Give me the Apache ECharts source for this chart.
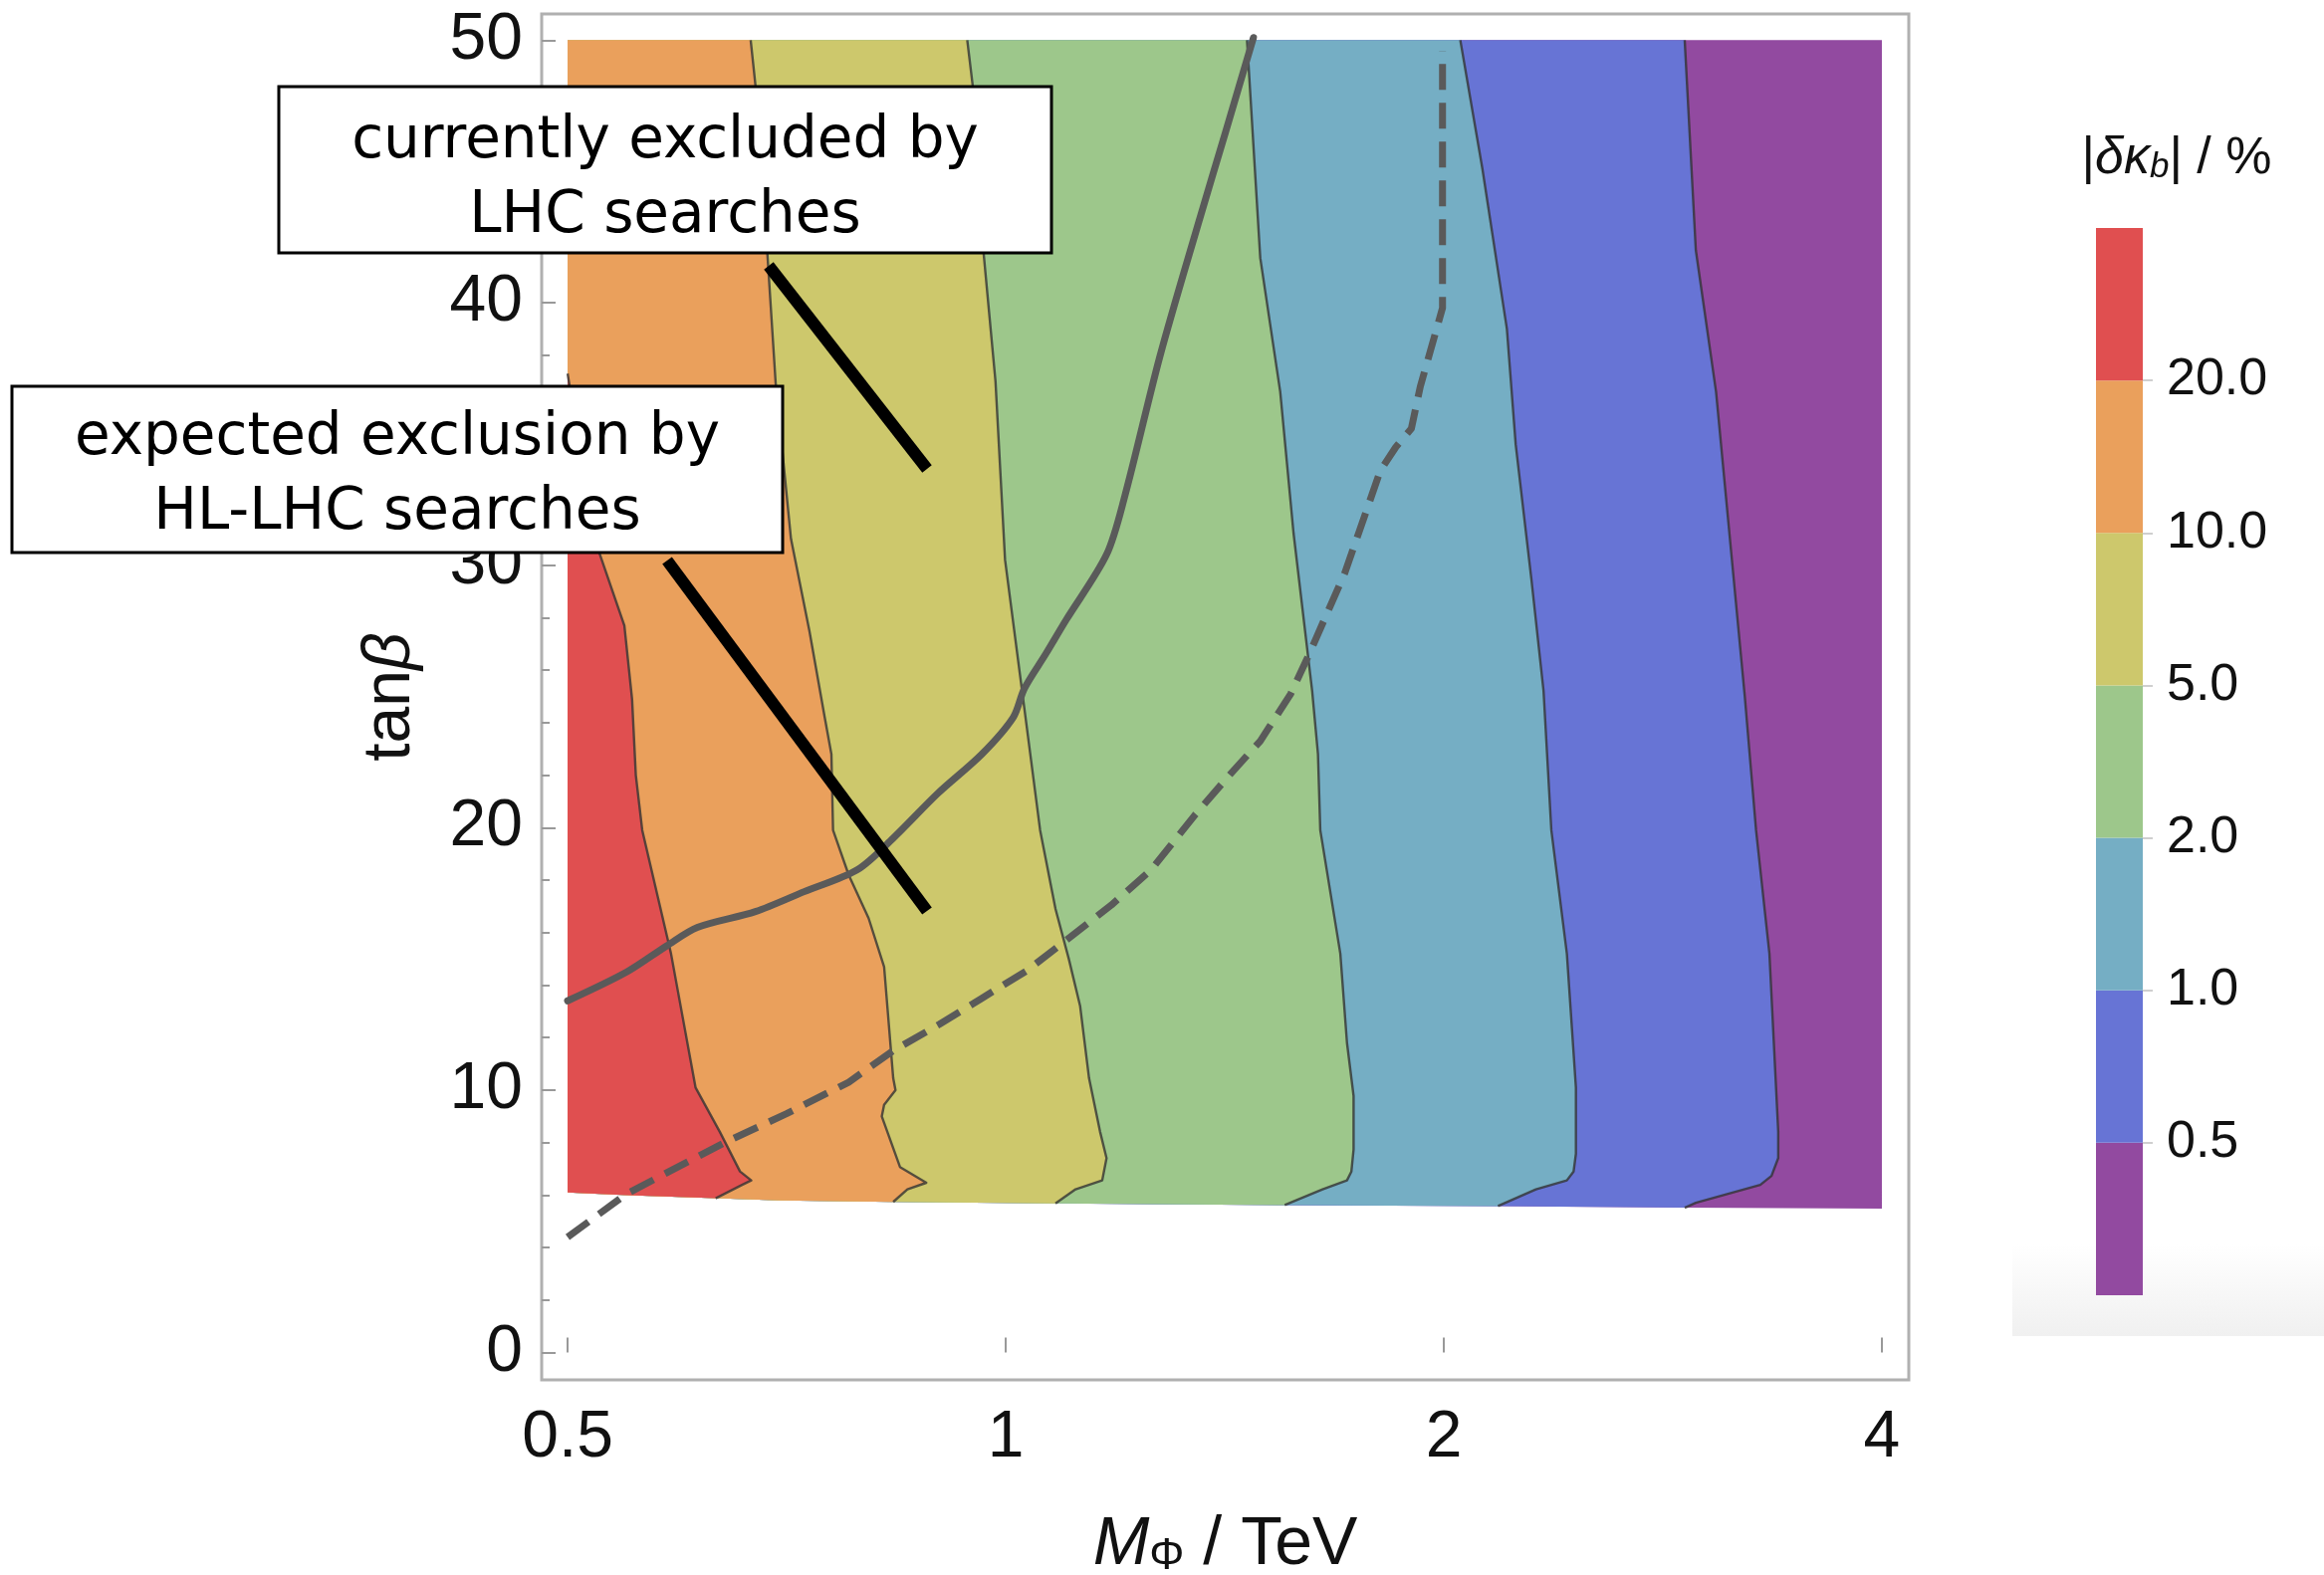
<!DOCTYPE html>
<html><head><meta charset="utf-8">
<script src="https://cdn.jsdelivr.net/npm/echarts@6/dist/echarts.min.js"></script>
<style>html,body{margin:0;padding:0;background:#fff}#c{width:2334px;height:1582px}</style>
</head><body><div id="c"></div>
<script>
// ---------- axis ticks ----------
const xTickValues = [0.5, 1, 2, 4];
const yTickValues = [0, 10, 20, 30, 40, 50];
const yMinorTickValues = [2,4,6,8,12,14,16,18,22,24,26,28,32,34,36,38,42,44,46,48];

// ---------- colour bar ----------
const bandLevels = ['0.5', '1.0', '2.0', '5.0', '10.0', '20.0'];
const bandColors = ['#924AA0', '#6774D5', '#75AEC4', '#9DC78B', '#CDC86C', '#EAA05C', '#E04F50']; // <0.5 ... >20
const bandSpan = [1, 1, 1, 1, 1, 1, 1];

// ---------- data region ----------
const dataLeft = 0.5;
const bottomEdge = [[0.5,6.1],[0.55,6.0],[0.632,5.88],[0.7,5.8],[0.837,5.74],[1.082,5.68],[1.555,5.62],[2.179,5.58],[2.928,5.52],[4,5.48]];
const rightEdge = [[4,50],[4,5.48]];

// ---------- contour boundaries  [M_Phi (TeV), tan beta] ----------
const contour20 = [[0.5,37.3],[0.513,33.5],[0.5255,30.5],[0.547,27.7],[0.5537,24.9],[0.557,22],[0.5627,19.9],[0.5889,15.2],[0.6122,10.1],[0.6363,8.4],[0.6568,6.9],[0.6686,6.56],[0.659,6.39],[0.632,5.88]];
const contour10 = [[0.668,50],[0.673,48.3],[0.686,41.8],[0.695,36.9],[0.712,31],[0.733,27.5],[0.751,24.2],[0.759,22.8],[0.761,19.9],[0.78,18.2],[0.805,16.55],[0.825,14.7],[0.837,10.45],[0.84,10.0],[0.825,9.44],[0.822,9.0],[0.846,7.07],[0.882,6.47],[0.856,6.22],[0.837,5.74]];
const contour5 = [[0.941,50],[0.949,48.3],[0.966,41.8],[0.984,37],[0.999,30.2],[1.023,25.8],[1.033,24],[1.056,19.9],[1.082,16.9],[1.105,15.0],[1.125,13.2],[1.141,10.45],[1.161,8.42],[1.173,7.41],[1.165,6.56],[1.117,6.22],[1.082,5.68]];
const contour2 = [[1.465,50],[1.496,41.7],[1.544,36.6],[1.577,31.2],[1.624,25.2],[1.639,22.8],[1.645,19.9],[1.698,15.2],[1.716,11.8],[1.734,9.78],[1.734,7.74],[1.728,6.9],[1.716,6.56],[1.651,6.22],[1.555,5.62]];
const contour1 = [[2.053,50],[2.126,45.1],[2.21,39],[2.241,34.6],[2.297,29.5],[2.342,25.2],[2.371,19.9],[2.43,15.2],[2.465,10.1],[2.465,7.57],[2.456,6.9],[2.43,6.56],[2.314,6.22],[2.179,5.58]];
const contour05 = [[2.928,50],[2.98,42],[3.077,36.6],[3.22,25],[3.278,19.9],[3.348,15.2],[3.395,8.42],[3.395,7.41],[3.359,6.73],[3.30,6.39],[2.98,5.71],[2.928,5.52]];

// ---------- exclusion curves ----------
const currentExclusion = [[0.5,13.4],[0.549,14.5],[0.585,15.5],[0.614,16.2],[0.673,16.8],[0.727,17.56],[0.791,18.4],[0.837,19.6],[0.898,21.3],[0.963,22.8],[1.012,24.2],[1.03,25.3],[1.065,26.6],[1.10,27.9],[1.173,30.4],[1.207,32.6],[1.277,38],[1.356,43],[1.416,46.5],[1.48,50.1]];
const expectedExclusion = [[0.5,4.4],[0.549,6.05],[0.641,8.0],[0.707,9.1],[0.78,10.3],[0.837,11.5],[0.9,12.5],[0.963,13.5],[1.034,14.55],[1.10,15.7],[1.182,17.05],[1.259,18.4],[1.35,20.5],[1.43,22.1],[1.496,23.3],[1.57,25.1],[1.616,26.6],[1.71,29.7],[1.809,33.6],[1.854,34.5],[1.90,35.2],[1.927,36.8],[1.996,39.8],[1.996,49.6]];

// ---------- build fill regions (area left of each boundary) ----------
function regionLeftOf(boundary) {
  const end = boundary[boundary.length - 1];
  const head = [[dataLeft, boundary[0][1]]].concat(boundary);
  const tail = bottomEdge.filter(p => p[0] < end[0] - 1e-9).reverse();
  return head.concat(tail);
}
const regions = [
  {poly: regionLeftOf(rightEdge), color: bandColors[0]},
  {poly: regionLeftOf(contour05), color: bandColors[1]},
  {poly: regionLeftOf(contour1), color: bandColors[2]},
  {poly: regionLeftOf(contour2), color: bandColors[3]},
  {poly: regionLeftOf(contour5), color: bandColors[4]},
  {poly: regionLeftOf(contour10), color: bandColors[5]},
  {poly: regionLeftOf(contour20), color: bandColors[6]}
];
const contourLines = [contour20, contour10, contour5, contour2, contour1, contour05];

const axisFont = 'Liberation Sans';
const series = [];
regions.forEach(r => {
  series.push({
    type: 'custom', xAxisIndex: 0, yAxisIndex: 0, silent: true, z: 2,
    data: r.poly,
    renderItem: (params, api) => {
      if (params.dataIndex !== 0) return null;
      return {type: 'polygon', shape: {points: r.poly.map(p => api.coord(p))}, style: {fill: r.color}};
    }
  });
});
contourLines.forEach(c => {
  series.push({
    type: 'line', xAxisIndex: 0, yAxisIndex: 0, data: c, showSymbol: false, silent: true, z: 3,
    lineStyle: {color: '#333', width: 2.4, opacity: 0.8, join: 'round'}
  });
});
series.push({
  type: 'line', xAxisIndex: 0, yAxisIndex: 0, data: currentExclusion, showSymbol: false, silent: true, z: 4, smooth: 0.3,
  lineStyle: {color: '#5a5a5a', width: 7, cap: 'round', join: 'round'}
});
series.push({
  type: 'line', xAxisIndex: 0, yAxisIndex: 0, data: expectedExclusion, showSymbol: false, silent: true, z: 4,
  lineStyle: {color: '#5a5a5a', width: 7, type: [26, 13], cap: 'butt', join: 'round'}
});
bandColors.forEach((c, i) => {
  series.push({
    type: 'bar', xAxisIndex: 1, yAxisIndex: 2, stack: 'cb', barWidth: '100%', silent: true,
    data: [bandSpan[i]], itemStyle: {color: c}
  });
});

const chart = echarts.init(document.getElementById('c'), null, {renderer: 'canvas'});
chart.setOption({
  animation: false,
  backgroundColor: '#fff',
  grid: [
    {left: 544, right: 417, top: 14, bottom: 196, show: true, borderColor: '#b0b0b0', borderWidth: 3, backgroundColor: 'transparent', outerBoundsMode: 'none', containLabel: false},
    {left: 2105, top: 229, width: 47, height: 1072, show: false, outerBoundsMode: 'none', containLabel: false}
  ],
  xAxis: [
    {
      gridIndex: 0, type: 'log', logBase: 2, min: 0.4799, max: 4.174,
      axisLine: {show: false}, splitLine: {show: false}, minorTick: {show: false},
      axisTick: {show: true, inside: true, length: 15, customValues: xTickValues, lineStyle: {color: '#999', width: 2}},
      axisLabel: {customValues: xTickValues, formatter: v => String(+(+v).toPrecision(3)), fontFamily: axisFont, fontSize: 66, color: '#111', margin: 26},
      name: '{i|M}{s|Φ}{n| / TeV}', nameLocation: 'middle', nameGap: 128,
      nameTextStyle: {rich: {
        i: {fontFamily: axisFont, fontSize: 68, fontStyle: 'italic', color: '#111', lineHeight: 72, verticalAlign: 'bottom'},
        s: {fontFamily: axisFont, fontSize: 44, color: '#111', lineHeight: 24, verticalAlign: 'bottom'},
        n: {fontFamily: axisFont, fontSize: 68, color: '#111', lineHeight: 72, verticalAlign: 'bottom'}
      }}
    },
    {gridIndex: 1, type: 'category', data: ['cb'], show: false}
  ],
  yAxis: [
    {
      gridIndex: 0, type: 'value', min: -1.04, max: 51, position: 'left',
      axisLine: {show: false}, splitLine: {show: false},
      axisTick: {show: true, inside: true, length: 14, customValues: yTickValues, lineStyle: {color: '#999', width: 2}},
      axisLabel: {customValues: yTickValues, fontFamily: axisFont, fontSize: 66, color: '#111', margin: 19},
      name: '{n|tan}{i|β}', nameLocation: 'middle', nameGap: 118, nameRotate: 90,
      nameTextStyle: {rich: {
        n: {fontFamily: axisFont, fontSize: 66, color: '#111'},
        i: {fontFamily: axisFont, fontSize: 66, fontStyle: 'italic', color: '#111'}
      }}
    },
    {
      gridIndex: 0, type: 'value', min: -1.04, max: 51, position: 'left', offset: 0,
      axisLine: {show: false}, splitLine: {show: false},
      axisTick: {show: true, inside: true, length: 8, customValues: yMinorTickValues, lineStyle: {color: '#999', width: 2}},
      axisLabel: {show: false}
    },
    {
      gridIndex: 1, type: 'value', min: 0, max: 7, interval: 1, position: 'right',
      axisLine: {show: false}, splitLine: {show: false},
      axisTick: {show: true, length: 10, customValues: [1,2,3,4,5,6], lineStyle: {color: '#cfcfcf', width: 2}},
      axisLabel: {customValues: [1,2,3,4,5,6], formatter: v => bandLevels[Math.round(v) - 1] || '', fontFamily: axisFont, fontSize: 52, color: '#111', margin: 24}
    }
  ],
  graphic: [
    {type: 'rect', z: -10, shape: {x: 2021, y: 1250, width: 313, height: 92},
     style: {fill: new echarts.graphic.LinearGradient(0, 0, 0, 1, [{offset: 0, color: 'rgba(240,240,240,0)'}, {offset: 1, color: 'rgba(240,240,240,1)'}])}},
    {type: 'text', z: 50, x: 2186, y: 156,
     style: {text: '{n||}{g|δκ}{s|b}{n|| / %}', align: 'center', verticalAlign: 'middle', textAlign: 'center', textVerticalAlign: 'middle',
       rich: {
         n: {fontFamily: axisFont, fontSize: 52, fill: '#111', lineHeight: 60, verticalAlign: 'bottom'},
         g: {fontFamily: axisFont, fontSize: 52, fontStyle: 'italic', fill: '#111', lineHeight: 60, verticalAlign: 'bottom'},
         s: {fontFamily: axisFont, fontSize: 35, fontStyle: 'italic', fill: '#111', lineHeight: 28, verticalAlign: 'bottom'}
       }}},
    {type: 'rect', z: 100, shape: {x: 280, y: 87, width: 776, height: 167}, style: {fill: '#fff', stroke: '#000', lineWidth: 3}},
    {type: 'text', z: 101, x: 668, y: 180,
     style: {text: 'currently excluded by\nLHC searches', font: '58px "DejaVu Sans"', fill: '#000', align: 'center', verticalAlign: 'middle', textAlign: 'center', textVerticalAlign: 'middle', lineHeight: 75}},
    {type: 'rect', z: 100, shape: {x: 12, y: 388, width: 774, height: 167}, style: {fill: '#fff', stroke: '#000', lineWidth: 3}},
    {type: 'text', z: 101, x: 399, y: 478,
     style: {text: 'expected exclusion by\nHL-LHC searches', font: '58px "DejaVu Sans"', fill: '#000', align: 'center', verticalAlign: 'middle', textAlign: 'center', textVerticalAlign: 'middle', lineHeight: 75}},
    {type: 'line', z: 100, shape: {x1: 772, y1: 267, x2: 931, y2: 471}, style: {stroke: '#000', lineWidth: 12}},
    {type: 'line', z: 100, shape: {x1: 670, y1: 563, x2: 931, y2: 915}, style: {stroke: '#000', lineWidth: 12}}
  ],
  series: series
});
</script>
</body></html>
